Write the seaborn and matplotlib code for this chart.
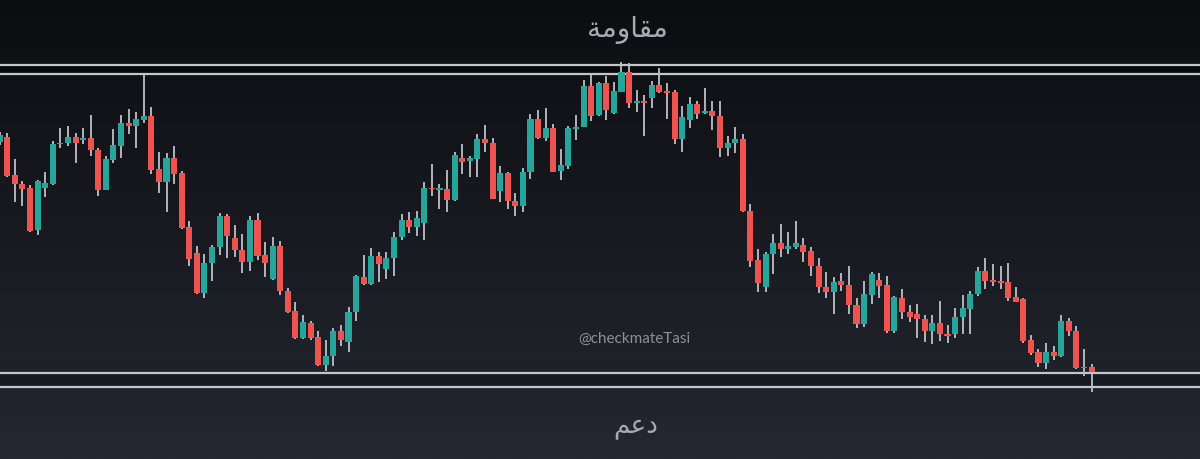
import numpy as np
import pandas as pd
import matplotlib
matplotlib.use('Agg')
import matplotlib.pyplot as plt
import matplotlib.colors as mcolors
import seaborn as sns

# OHLC values (one entry per daily candle)
opens = [317, 321.7, 284, 275, 270.7, 229.3, 270.7, 275, 314.7, 316,
         321.7, 319.3, 321, 309.3, 269.3, 299.3, 312.7, 336, 332.7, 339.3,
         343.3, 290, 277.3, 300.7, 285.7, 231.7, 206, 166, 196, 211.7,
         242.7, 220.7, 209.3, 196.7, 239.3, 204, 180, 213.3, 167.7, 147.7,
         120.7, 136, 121.7, 94, 103.3, 128.3, 116.7, 146.7, 181.7, 175,
         203.3, 190, 201.3, 221.7, 239, 231.7, 236, 271.3, 269.3, 270,
         259, 301.3, 298.3, 300, 320, 316, 268.3, 285.7, 258.3, 253.3,
         286.7, 340, 321, 330.7, 288.3, 292.7, 330, 331.7, 373.3, 344,
         376, 346, 367.3, 387.3, 356.3, 357.7, 360.7, 374, 368.3, 366.7,
         320, 339.3, 355, 346, 348.3, 342.7, 310.7, 316, 320, 248.3,
         199.3, 171.7, 205, 216, 210, 211.7, 214, 208.3, 193.3, 172.3,
         167.3, 177.7, 174, 154.3, 135, 164.3, 179.3, 174, 128.3, 160.7,
         147.3, 145, 140, 128.3, 135.7, 125, 125, 142.3, 150, 165,
         187.7, 179, 178.3, 176.7, 161.7, 160, 119, 106.7, 96, 106.7,
         102.7, 138.3, 128.3, 90.7, 91.7]
highs = [327, 326, 300, 278.3, 274, 279.3, 287.3, 318.3, 330.7, 333.3,
         326, 331, 344, 310.7, 303.3, 330, 344, 350, 347.3, 385,
         351.7, 306.7, 305.7, 313.3, 287.7, 238.3, 213.3, 205, 214, 246,
         245, 234, 225, 243.3, 245.7, 216.7, 221.7, 218.3, 170.7, 156.7,
         144, 137.7, 128.3, 119.3, 130.7, 134, 151.7, 184, 204, 210.7,
         207.3, 206.7, 226.7, 245, 247.3, 247.7, 277.3, 295, 275, 289.3,
         306.7, 315, 302.7, 325, 334, 320.7, 293.3, 286.7, 266, 290.7,
         345, 349.3, 350.7, 335, 310, 332.7, 344, 379.3, 386, 377.3,
         382.7, 377.3, 397.3, 396, 369.3, 364, 377.7, 390.7, 375.7, 369,
         353.3, 361.7, 357.7, 370.7, 357.7, 357.7, 322.7, 332.5, 325, 255,
         210, 207.3, 225, 235, 227.3, 238, 220.7, 211.7, 200.7, 187.3,
         181.7, 186, 193.3, 160.7, 178.3, 186.7, 186, 182.7, 163.3, 170,
         154, 155, 144, 144, 158.3, 134, 151, 164, 168.3, 192.3,
         201, 195, 192.7, 196, 172.3, 160.7, 124, 110, 116, 112.7,
         144, 140.7, 132.7, 110, 95]
lows = [314, 281.7, 256.7, 253.3, 226.7, 224, 261.7, 274, 310.7, 312.7,
        296, 315, 303.3, 263.3, 269.3, 296, 301, 325, 310.7, 336,
        285, 266, 246.7, 274.7, 230, 192.7, 165, 160.7, 178.3, 204,
        200.7, 201.7, 186, 188.3, 199, 181.7, 179.3, 164.3, 146, 120,
        120, 119.3, 92.7, 88.3, 93.3, 113.3, 106.7, 138.3, 174, 174,
        177.3, 180, 182.7, 219.3, 226, 223.3, 219, 263.3, 250, 247.3,
        258.3, 285, 281.7, 281.7, 306.7, 260, 257.3, 250, 243.3, 246.7,
        280, 320, 318.3, 286.7, 279.3, 290, 319.3, 331.7, 338.3, 343.3,
        339, 345, 366.7, 350.7, 346.7, 323.3, 350.7, 366, 340, 315,
        307.3, 330.7, 340, 345, 329.3, 301.7, 302.7, 306.5, 247.3, 191.7,
        167.3, 167.3, 185, 202.3, 205, 210, 196.7, 183.3, 165.7, 160.7,
        145, 168.3, 145, 130.7, 131.7, 155, 160.7, 125.7, 125.7, 139.7,
        137, 121.3, 117.3, 115, 118.3, 116, 120.7, 125, 125, 162.7,
        170, 173.3, 170, 158.3, 156.7, 116, 104, 91.7, 90, 99.3,
        101.7, 123.3, 90, 82.7, 67.3]
closes = [324, 283.3, 275, 270, 228.3, 278.3, 276, 315, 316, 321.7,
          316, 321, 309, 269.3, 300, 314, 335.7, 332.7, 340, 343.3,
          289.3, 277.3, 300.7, 285, 231, 200, 166, 196, 212.3, 243.3,
          223.3, 209.3, 196.7, 239.3, 203.3, 196, 213.3, 167.7, 147.3, 121,
          136.7, 120.7, 94, 103.3, 128.3, 119.3, 146.7, 182.7, 175, 203.3,
          195, 201.3, 221.7, 239, 231.7, 240.7, 271, 270, 270.7, 259,
          304.3, 297.3, 300.7, 320, 316, 260, 285.7, 258.3, 253.3, 286.7,
          340, 321.3, 330.7, 287.3, 294, 331, 332.3, 373.3, 343.3, 376,
          349.3, 368.3, 386.7, 356, 357.7, 356.3, 374, 367.3, 366, 320,
          342.3, 355, 345, 348.3, 342.7, 310.7, 315.7, 320, 248.3, 198.3,
          175.7, 205, 216, 210, 213.3, 216, 207.3, 193.3, 171.7, 167.3,
          176.7, 174, 154, 135, 165, 185, 173.3, 128.3, 161.7, 147.3,
          141.7, 140, 128.3, 135.7, 125, 123.3, 142.3, 150.7, 165, 187.7,
          178.3, 177.3, 176.3, 160.7, 157.3, 117.7, 105.7, 96, 106.7, 102.7,
          138.3, 128.3, 90.7, 92, 87.3]

resistance = [394, 385.5]
support = [86, 72]
title_top = '\ufe94\ufee3\ufeed\ufe8e\ufed8\ufee3'   # مقاومة (shaped, visual order)
title_bottom = '\ufee2\ufecb\ufea9'                  # دعم (shaped, visual order)
handle = '@checkmateTasi'

UP = '#26a69a'
DOWN = '#ef5350'
WICK = '#bdc0c6'
LINE = '#c4c6cb'

df = pd.DataFrame({'open': opens, 'high': highs, 'low': lows, 'close': closes})
df['x'] = np.arange(len(df))
df['up'] = df['close'] >= df['open']
df['bottom'] = df[['open', 'close']].min(axis=1)
df['body'] = (df['close'] - df['open']).abs().clip(lower=1.3)
df['color'] = np.where(df['up'], UP, DOWN)

sns.set_style('dark', rc={'axes.facecolor': '#15171c', 'figure.facecolor': '#15171c'})
plt.rcParams['font.family'] = ['DejaVu Sans']

fig = plt.figure(figsize=(12, 4.6), dpi=100)
ax = fig.add_axes([0, 0, 1, 1])
ax.set_xlim(0.037, 158.3)
ax.set_ylim(0, 460)

# vertical background gradient
top_c = np.array(mcolors.to_rgb('#0c0d10'))
bot_c = np.array(mcolors.to_rgb('#252731'))
t = np.linspace(0, 1, 256)[:, None]
grad = (top_c * (1 - t) + bot_c * t)[:, None, :]
ax.imshow(grad, extent=[0.037, 158.3, 0, 460], aspect='auto', zorder=0)

# darker bands between the level lines
ax.axhspan(resistance[1], resistance[0], color='#09090b', zorder=1)
ax.axhspan(support[1], support[0], color='#181a21', zorder=1)
for lvl in resistance + support:
    ax.axhline(lvl, color=LINE, lw=1.6, zorder=2)

# candles
ax.vlines(df['x'], df['low'], df['high'], color=WICK, lw=1.3, zorder=3)
ax.bar(df['x'], df['body'], bottom=df['bottom'], width=0.8,
       color=df['color'], linewidth=0, zorder=4)

ax.text(0.5225, 0.934, title_top, transform=ax.transAxes, ha='center', va='center',
        fontsize=20, color='#a8aab0', family=['DejaVu Sans'])
ax.text(0.53, 0.072, title_bottom, transform=ax.transAxes, ha='center', va='center',
        fontsize=19, color='#a8aab0', family=['DejaVu Sans'])
ax.text(0.529, 0.263, handle, transform=ax.transAxes, ha='center', va='center',
        fontsize=11, color='#8d9097', family=['Lato', 'DejaVu Sans'])

ax.set_axis_off()
fig.savefig('out.png', dpi=100, facecolor=fig.get_facecolor())
